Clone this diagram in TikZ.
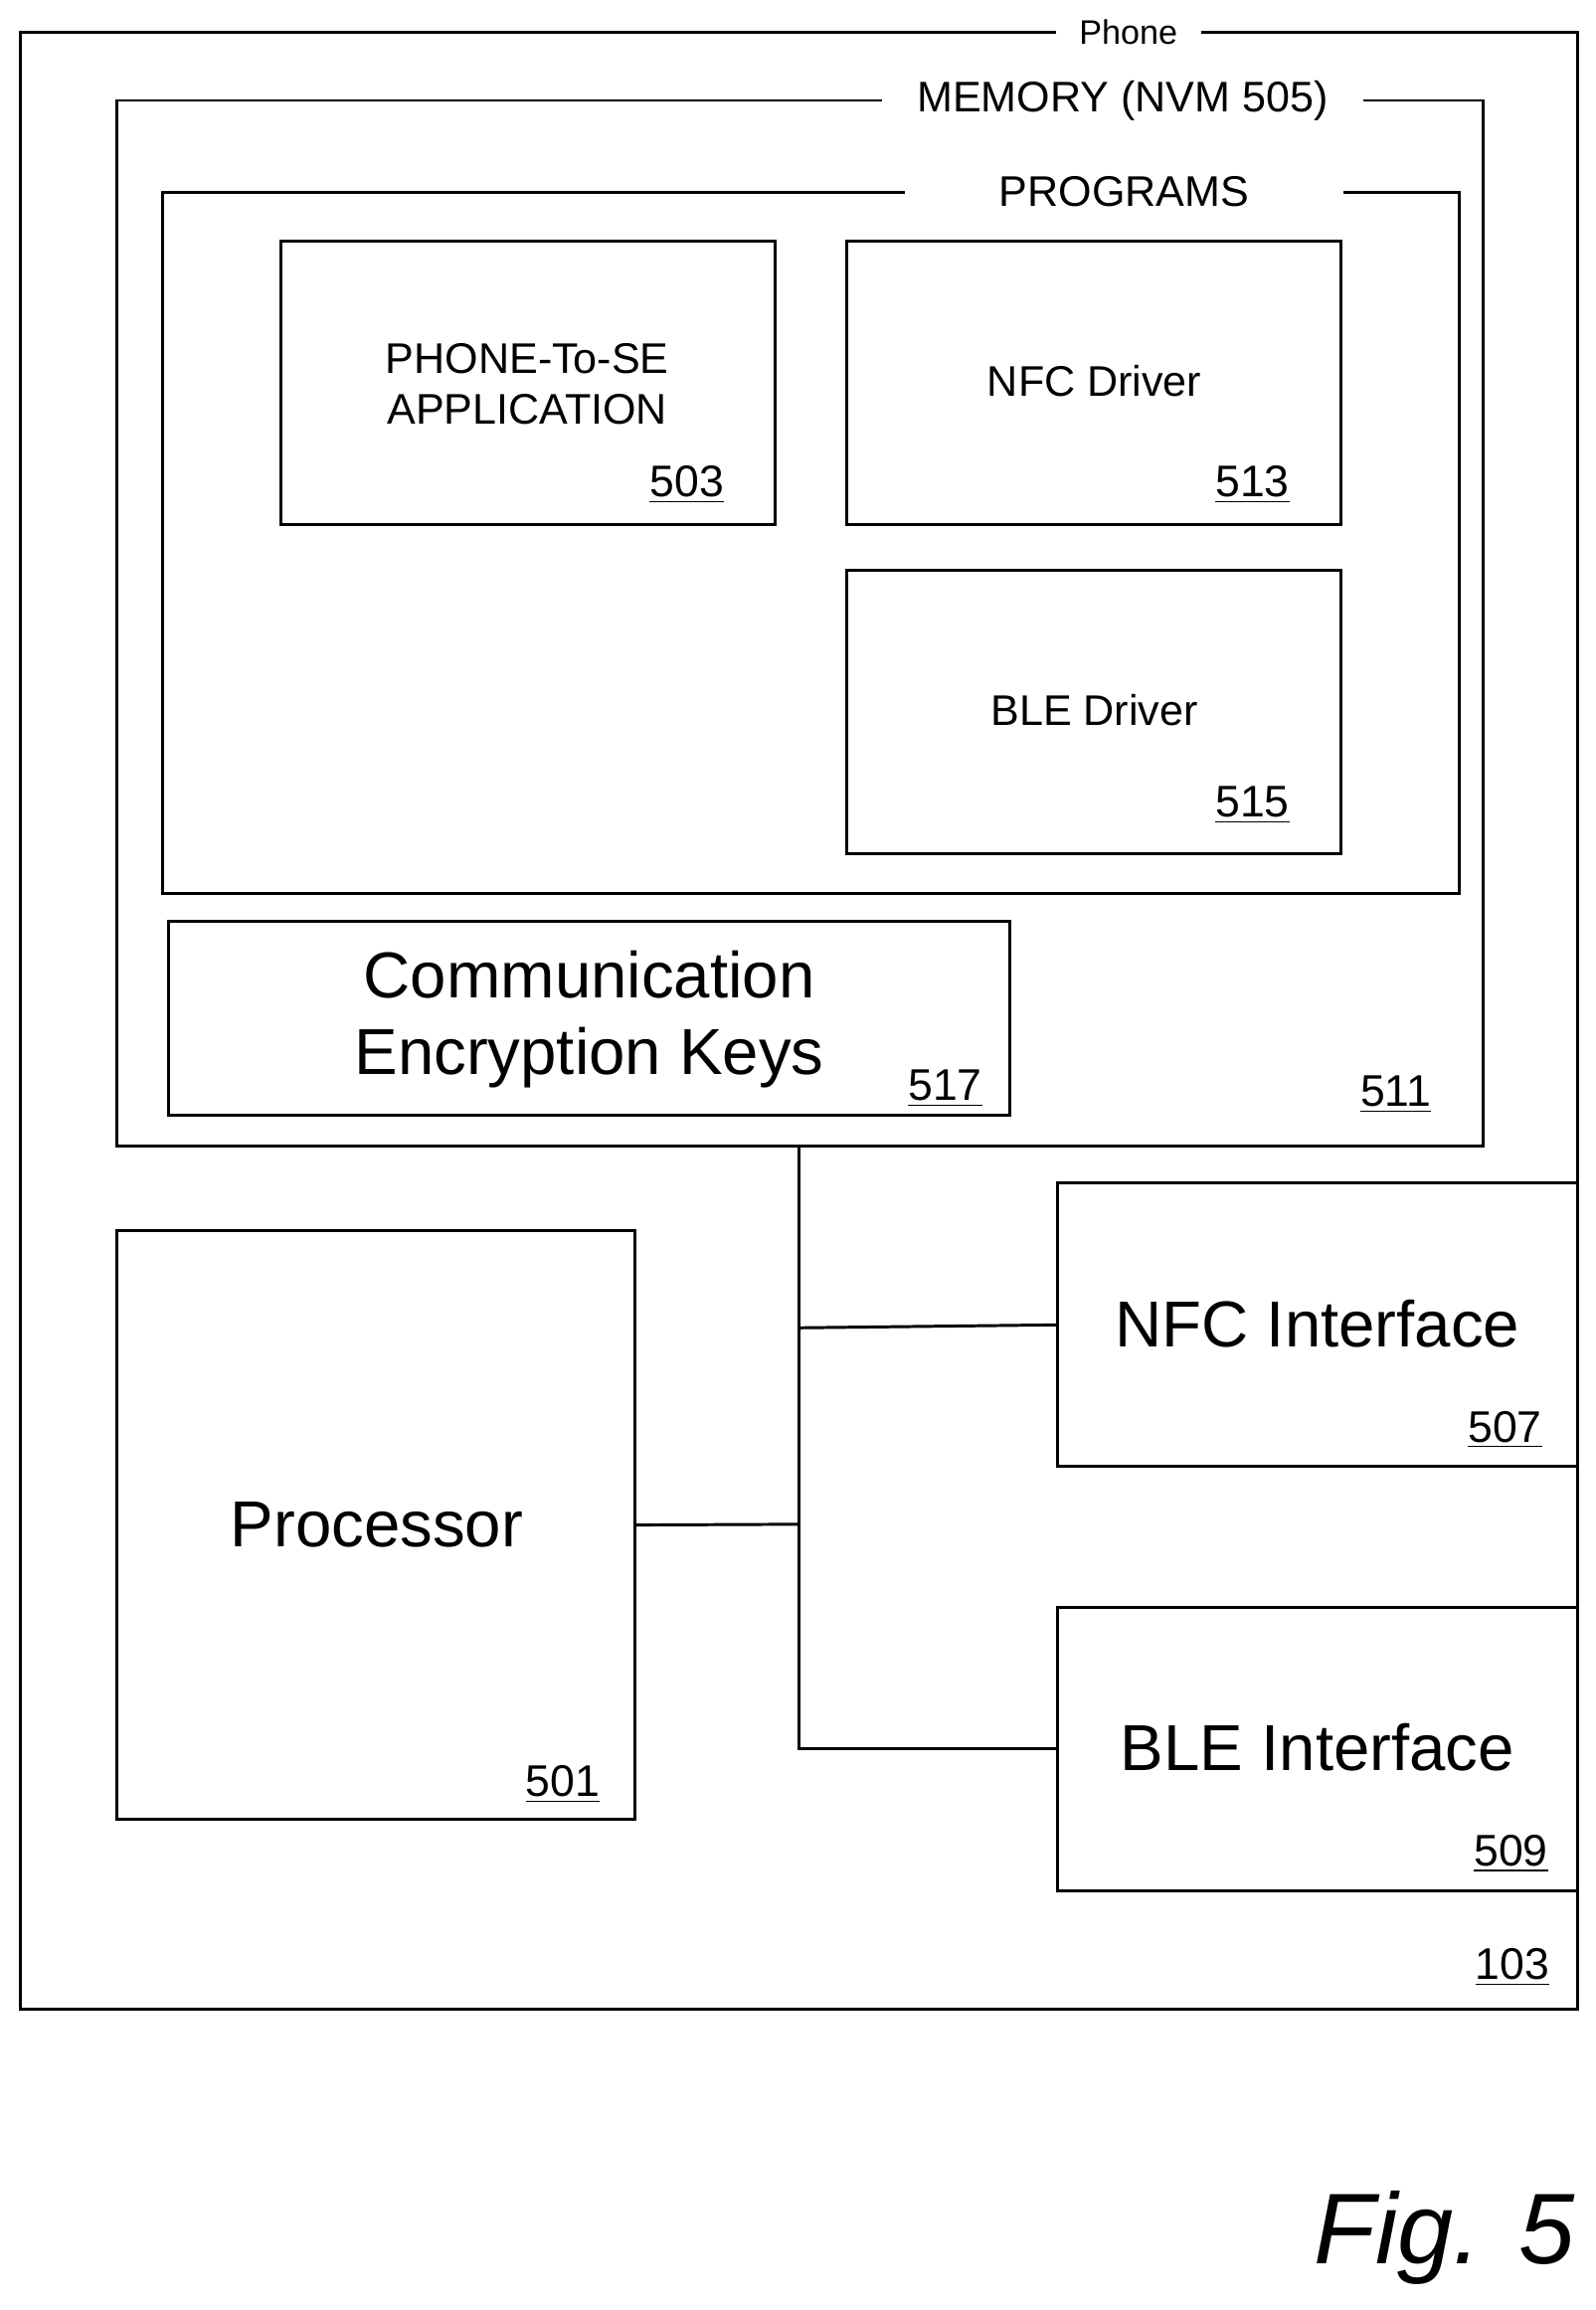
\documentclass[tikz,border=0pt]{standalone}
\usepackage{fontspec}
\setmainfont{Liberation Sans}
\begin{document}
\begin{tikzpicture}[x=0.5pt,y=-0.5pt,line width=1pt,
  box/.style={draw,rectangle,inner sep=0pt},
  gap/.style={fill=white,inner xsep=8pt,inner ysep=2pt},
  num/.style={font=\fontsize{15}{17}\selectfont},
  sm/.style={font=\fontsize{14.5}{17}\selectfont,align=center},
  big/.style={font=\fontsize{22}{26}\selectfont,align=center}]
\useasboundingbox (0,0) rectangle (1080,1564);
\draw (14,22) rectangle (1068,1360);
\node[gap,font=\fontsize{11.5}{13}\selectfont] (phone) at (764,22) {Phone};
\draw (79,68) rectangle (1004,776);
\node[gap,sm,inner xsep=12pt] (mem) at (760,68) {MEMORY (NVM 505)};
\draw (110,130) rectangle (988,605);
\node[gap,sm,inner xsep=32pt] (prog) at (761,130) {PROGRAMS};
\draw (190,163) rectangle (525,355);
\node[sm] (app) at (357,260) {PHONE-To-SE\\APPLICATION};
\node[num] (n503) at (465,328) {\underline{503}};
\draw (573,163) rectangle (908,355);
\node[sm] (nfcd) at (741,258) {NFC Driver};
\node[num] (n513) at (848,328) {\underline{513}};
\draw (573,386) rectangle (908,578);
\node[sm] (bled) at (741,481) {BLE Driver};
\node[num] (n515) at (848,545) {\underline{515}};
\draw (114,624) rectangle (684,755);
\node[big,font=\fontsize{22}{26}\selectfont] (keys) at (399,690) {Communication\\Encryption Keys};
\node[num] (n517) at (640,737) {\underline{517}};
\node[num] (n511) at (945,741) {\underline{511}};
\node[box,minimum width=352pt*0.5,minimum height=192pt*0.5] (nfci) at (892,897) {};
\node[big] at (892,896) {NFC Interface};
\node[num] at (1019,968) {\underline{507}};
\node[box,minimum width=352pt*0.5,minimum height=192pt*0.5] (blei) at (892,1184) {};
\node[big] at (892,1183) {BLE Interface};
\node[num] at (1023,1255) {\underline{509}};
\node[box,minimum width=351pt*0.5,minimum height=399pt*0.5] (proc) at (254.5,1032.5) {};
\node[big] at (255,1032) {Processor};
\node[num] at (381,1208) {\underline{501}};
\node[num] at (1024,1332) {\underline{103}};
\coordinate (btop) at (541,776);
\coordinate (bbot) at (541,1184);
\draw (btop) -- (bbot) -- (blei.west);
\draw (541,899) -- (nfci.west);
\draw (proc.east) -- (541,1032);
\node[font=\fontsize{34}{40}\selectfont\itshape] at (978,1515) {Fig. 5};
\end{tikzpicture}
\end{document}
